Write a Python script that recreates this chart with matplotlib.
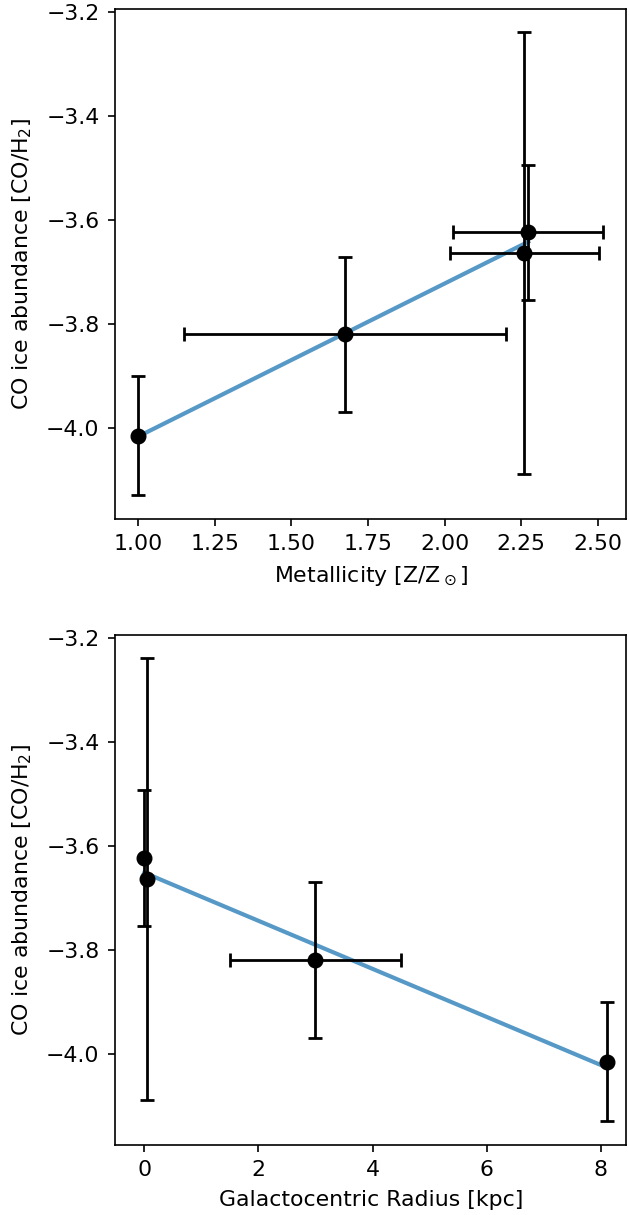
import numpy as np
import matplotlib.pyplot as plt

# CO ice abundances (log CO/H2) for the four sources
co_abund = np.array([-3.623, -3.663, -3.82, -4.015])
co_err = np.array([0.13, 0.425, 0.15, 0.115])

# metallicity of each source
metal = np.array([2.273, 2.26, 1.675, 1.0])
metal_err = np.array([0.245, 0.243, 0.525, 0.0])

# galactocentric radius of each source
radius = np.array([0.0, 0.05, 3.0, 8.1])
radius_err = np.array([0.0, 0.0, 1.5, 0.0])

plt.rcParams['font.size'] = 15.8
plt.rcParams['axes.linewidth'] = 1.2
plt.rcParams['axes.labelpad'] = 7
for a in ('xtick', 'ytick'):
    plt.rcParams[a + '.major.size'] = 5.2
    plt.rcParams[a + '.major.width'] = 1.2
    plt.rcParams[a + '.major.pad'] = 6

def fit_panel(ax, x, xerr, xl):
    # straight line fit through the points
    p = np.polyfit(x, co_abund, 1)
    xx = np.linspace(x.min(), x.max(), 50)
    ax.plot(xx, np.polyval(p, xx), color='C0', alpha=0.75, lw=3, zorder=1)
    ax.errorbar(x, co_abund, xerr=xerr, yerr=co_err, fmt='o', color='k',
                ms=10.5, elinewidth=2, capsize=5, capthick=2, zorder=2)
    ax.set_xlabel(xl)
    ax.set_ylabel('CO ice abundance [CO/H$_2$]', labelpad=9)

fig, (ax1, ax2) = plt.subplots(2, 1, figsize=(6.29, 12.15), dpi=100)
fig.subplots_adjust(left=0.183, right=0.996, top=0.9926, bottom=0.058, hspace=0.228)

fit_panel(ax1, metal, metal_err, r'Metallicity [Z/Z$_\odot$]')
fit_panel(ax2, radius, radius_err, 'Galactocentric Radius [kpc]')
ax2.set_xlim(-0.51, 8.45)

fig.savefig('out.png')
